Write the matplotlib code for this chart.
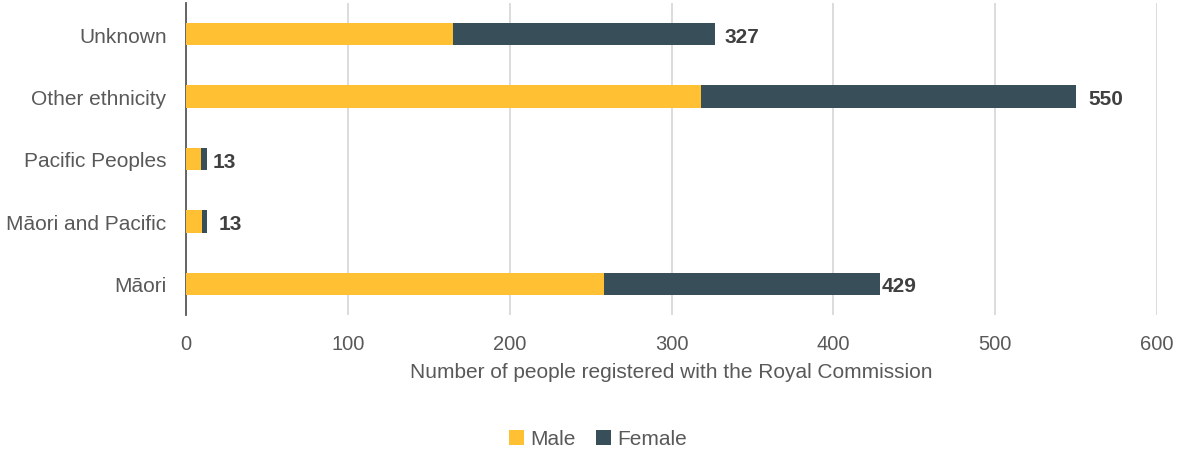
import matplotlib
matplotlib.use("Agg")
import matplotlib.pyplot as plt
import numpy as np

plt.rcParams['font.family'] = ['Liberation Sans', 'DejaVu Sans']

categories = ["Unknown", "Other ethnicity", "Pacific Peoples", "Māori and Pacific", "Māori"]
male = [165, 318, 9, 10, 258]
female = [162, 232, 4, 3, 171]
totals = [327, 550, 13, 13, 429]
xticks = [0, 100, 200, 300, 400, 500, 600]

# label offsets (points) to mimic the reference placement
label_offsets = [7, 9, 4, 8, 1]

male_c = "#FFC133"
female_c = "#384E59"

fig = plt.figure(figsize=(11.77, 4.52), dpi=100)
ax = fig.add_axes([186/1177, 1-316/452, (1157-186)/1177, (316-4)/452])

y = np.arange(len(categories))
ax.barh(y, male, height=0.36, color=male_c, label="Male", zorder=3)
ax.barh(y, female, left=male, height=0.36, color=female_c, label="Female", zorder=3)

for yi, t, off in zip(y, totals, label_offsets):
    ax.annotate(str(t), xy=(t, yi), xytext=(off, -1.5), textcoords='offset points',
                va='center', ha='left', fontsize=15, fontweight='bold', color='#404040')

ax.set_ylim(len(categories) - 0.5, -0.5)
ax.set_xlim(0, 600)
ax.set_yticks(y)
ax.set_yticklabels(categories, fontsize=15)
ax.set_xticks(xticks)
ax.tick_params(axis='both', length=0, colors='#595959')
ax.tick_params(axis='x', pad=14, labelsize=14.5)
ax.tick_params(axis='y', pad=14)
ax.xaxis.grid(True, color='#d9d9d9', linewidth=1.3, zorder=0)
ax.set_axisbelow(True)
for s in ['top', 'right', 'bottom']:
    ax.spines[s].set_visible(False)
ax.spines['left'].set_color('#595959')
ax.spines['left'].set_linewidth(1.3)
ax.set_xlabel("Number of people registered with the Royal Commission", fontsize=15,
              color='#595959', labelpad=6)

fig.legend(loc='center', bbox_to_anchor=(0.508, 1-440/452), ncol=2, frameon=False,
           fontsize=15, labelcolor='#595959', handlelength=0.7, handleheight=0.7,
           handletextpad=0.3, columnspacing=1.0)

fig.savefig("out.png", dpi=100)
